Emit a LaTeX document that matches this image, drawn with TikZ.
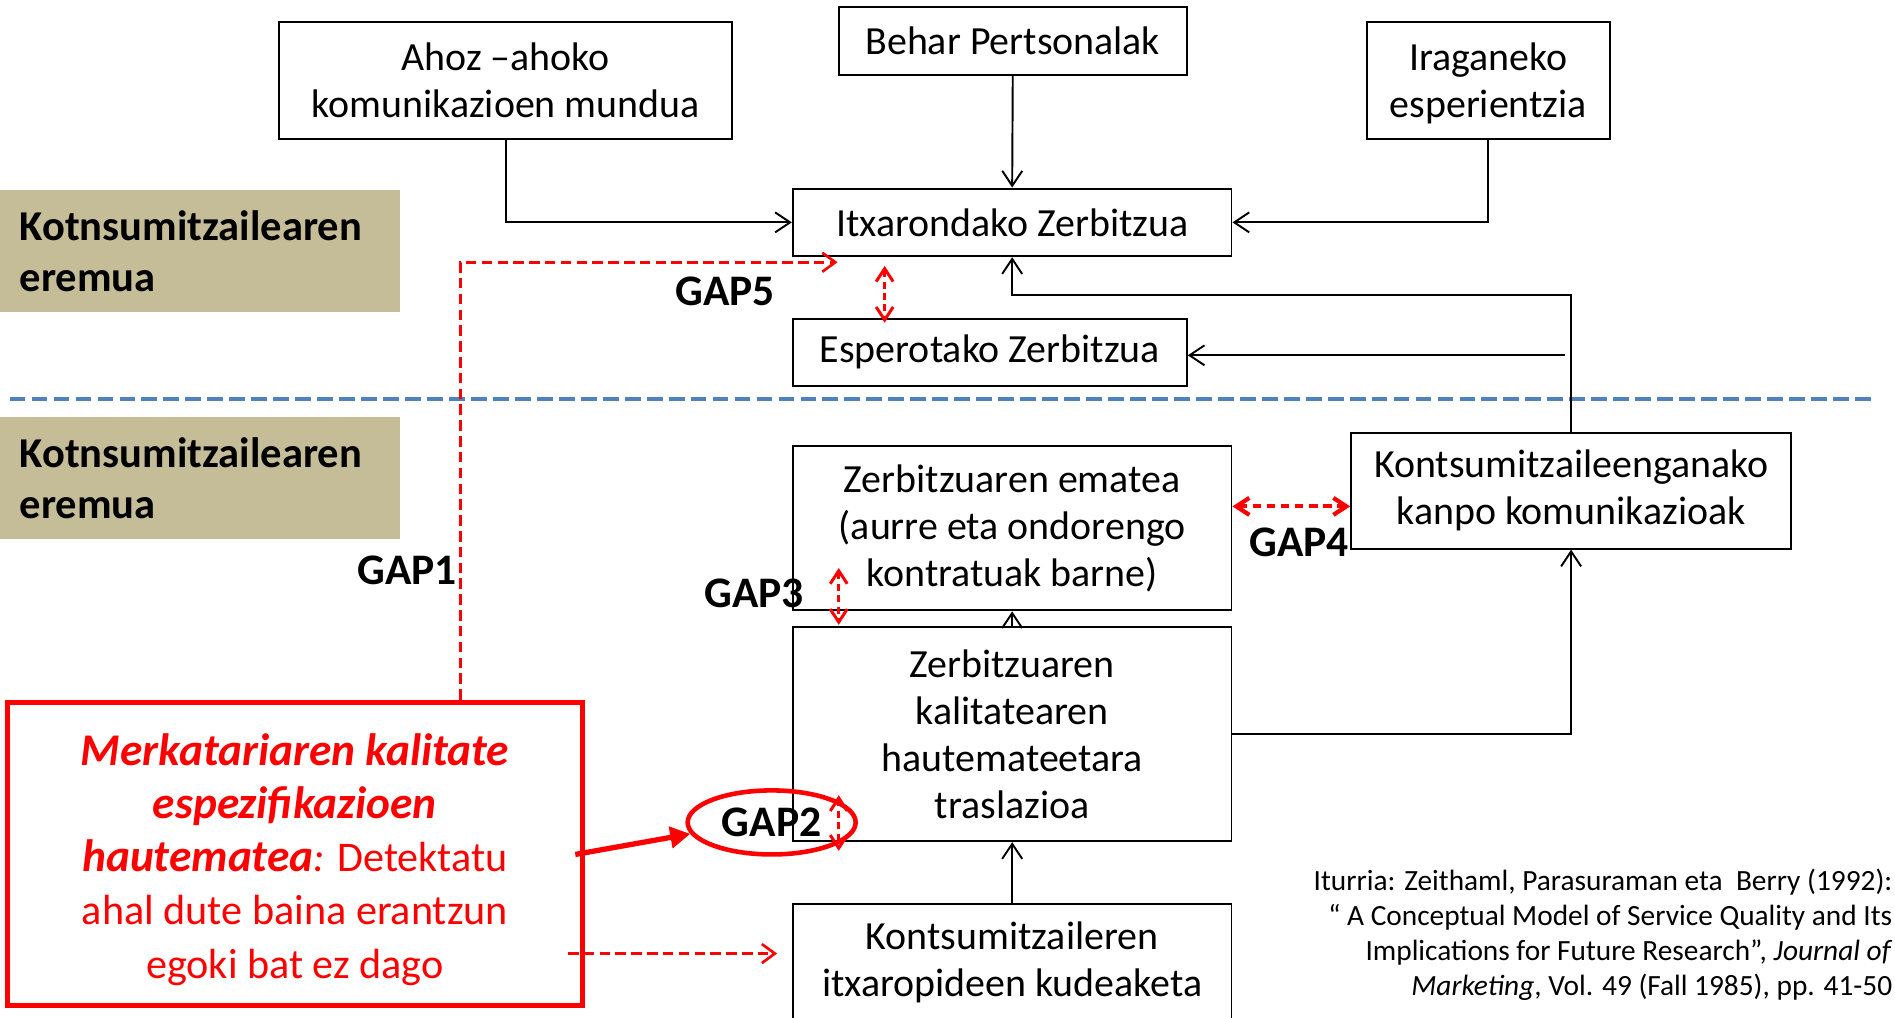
\documentclass[tikz,border=0pt]{standalone}
\usepackage{fontspec}
\setmainfont{Carlito}
\usetikzlibrary{arrows.meta,shapes.geometric,calc}
\definecolor{zonetan}{HTML}{C4BD97}
\definecolor{zoneblue}{HTML}{4F81BD}
\newcommand\pxu{0.02417cm}
\newcommand\hilite{\fontsize{25.8}{30.3}\selectfont\bfseries\itshape}

\begin{document}
\begin{tikzpicture}[x=0.02417cm, y=-0.02417cm,
  box/.style={draw, line width=1.1pt, align=center, inner sep=0pt,
    font=\fontsize{22.7}{26.8}\selectfont},
  tanbox/.style={fill=zonetan, align=left, inner xsep=16*\pxu, inner ysep=0pt,
    text width=299*\pxu, minimum height=101*\pxu,
    font=\fontsize{24.2}{28.8}\selectfont\bfseries},
  conn/.style={line width=1.1pt, -{Straight Barb[length=3mm,width=4mm]}},
  gaparrow/.style={red, line width=1.7pt, dash pattern=on 4pt off 2.5pt,
    {Straight Barb[length=2.6mm,width=3.4mm]}-{Straight Barb[length=2.6mm,width=3.4mm]}},
  gaplabel/.style={inner sep=0pt, font=\fontsize{24.8}{27}\selectfont\bfseries},
  reddash/.style={red, line width=1.5pt, dash pattern=on 6pt off 3pt,
    -{Straight Barb[length=2.6mm,width=3.8mm]}}
]
\useasboundingbox (0,0) rectangle (1568,842);
\clip (0,0) rectangle (1568,842);

% zone banners
\node[tanbox, anchor=north west] (zone1) at (0,157) {Kotnsumitzailearen\\eremua};
\node[tanbox, anchor=north west] (zone2) at (0,345) {Kotnsumitzailearen\\eremua};

% dividing line between the two zones
\coordinate (zl) at (8,330);
\coordinate (zr) at (1552,330);
\draw[zoneblue, line width=2.6pt, dash pattern=on 9pt off 3.5pt] (zl) -- (zr);

% upper boxes
\node[box, minimum width=375*\pxu, minimum height=97*\pxu] (ahoz) at (418.5,66.5)
  {Ahoz –ahoko\\komunikazioen mundua};
\node[box, minimum width=288*\pxu, minimum height=56*\pxu] (behar) at (838,34)
  {Behar Pertsonalak};
\node[box, minimum width=201*\pxu, minimum height=97*\pxu] (irag) at (1231.5,66.5)
  {\strut Iraganeko\\esperientzia};
\node[box, minimum width=363*\pxu, minimum height=56*\pxu] (itx) at (837.5,184)
  {Itxarondako Zerbitzua};
\node[box, minimum width=326*\pxu, minimum height=55*\pxu] (esp) at (819,291.5)
  {Esperotako Zerbitzua};

% lower boxes
\node[box, minimum width=363*\pxu, minimum height=136*\pxu] (emat) at (837.5,437)
  {Zerbitzuaren ematea\\(aurre eta ondorengo\\kontratuak barne)};
\node[box, minimum width=364*\pxu, minimum height=96*\pxu] (kanpo) at (1300,406)
  {Kontsumitzaileenganako\\kanpo komunikazioak};
\node[box, minimum width=363*\pxu, minimum height=177*\pxu] (kalit) at (837.5,607.5)
  {Zerbitzuaren\\kalitatearen\\hautemateetara\\traslazioa};
\node[box, minimum width=363*\pxu, minimum height=97*\pxu] (kudea) at (837.5,796.5)
  {Kontsumitzaileren\\itxaropideen kudeaketa};

% black connectors
\coordinate (fb) at (837.5,244);
\coordinate (fe) at (1295,294);
\draw[conn] (ahoz.south) |- (itx.west);
\draw[conn] (behar.south) -- (itx.north);
\draw[conn] (irag.south) |- (itx.east);
\draw[conn] (kanpo.north) |- (fb) -- (itx.south);
\draw[conn] (fe) -- (esp.east |- fe);
\draw[conn] (kalit.east) -| (kanpo.south);
\draw[conn] (kalit.north) -- (emat.south);
\draw[conn] (kudea.north) -- (kalit.south);

% gap labels
\node[gaplabel] (gap5) at (600,241) {GAP5};
\node[gaplabel] (gap1) at (337,472) {GAP1};
\node[gaplabel] (gap3) at (624,491) {GAP3};
\node[gaplabel] (gap4) at (1075,449) {GAP4};
\node[ellipse, draw=red, line width=2.6pt, minimum width=139*\pxu,
  minimum height=53*\pxu, inner sep=0pt, font=\fontsize{24.8}{27}\selectfont\bfseries]
  (gap2) at (638.5,680.5) {GAP2};

% gap arrows
\coordinate (g5a) at (732,220);
\coordinate (g5b) at (732,267);
\draw[gaparrow] (g5a) -- (g5b);
\coordinate (g3a) at (694,470);
\coordinate (g3b) at (694,517);
\draw[gaparrow] (g3a) -- (g3b);
\coordinate (g2a) at (694,658);
\coordinate (g2b) at (694,704);
\draw[gaparrow] (g2a) -- (g2b);
\coordinate (g4) at (1070,419);
\draw[gaparrow, line width=2.4pt, dash pattern=on 5pt off 3pt] (emat.east |- g4) -- (kanpo.west |- g4);

% manager perception box
\node[draw=red, line width=2.8pt, minimum width=476*\pxu, minimum height=251*\pxu,
  inner sep=0pt] (redbox) at (244,706.5) {};
\node[align=center, inner sep=0pt, text=red, font=\fontsize{24}{30.3}\selectfont]
  (redtext) at (244,711)
  {{\hilite Merkatariaren kalitate}\\
   {\hilite espezifikazioen}\\
   {\hilite hautematea}\textit{:} Detektatu\\
   ahal dute baina erantzun\\
   egoki bat ez dago};

% red connectors
\coordinate (g1x) at (381,217);
\coordinate (g1e) at (693,217);
\draw[reddash] (redbox.north -| g1x) |- (g1e);
\coordinate (ra) at (476,707);
\draw[red, line width=3pt, -{Triangle[length=4mm,width=4.2mm]}] (ra) -- (gap2.188);
\coordinate (rb) at (470,789);
\coordinate (rc) at (643,789);
\draw[reddash] (rb) -- (rc);

% source note
\node[anchor=east, align=right, inner sep=0pt, font=\fontsize{16.7}{19.9}\selectfont]
  (src) at (1566,773.5)
  {Iturria: Zeithaml, Parasuraman eta\ \ Berry (1992):\\
   “ A Conceptual Model of Service Quality and Its\\
   Implications for Future Research”, \textit{Journal of}\\
   \textit{Marketing}, Vol. 49 (Fall 1985), pp. 41-50};
\end{tikzpicture}
\end{document}
